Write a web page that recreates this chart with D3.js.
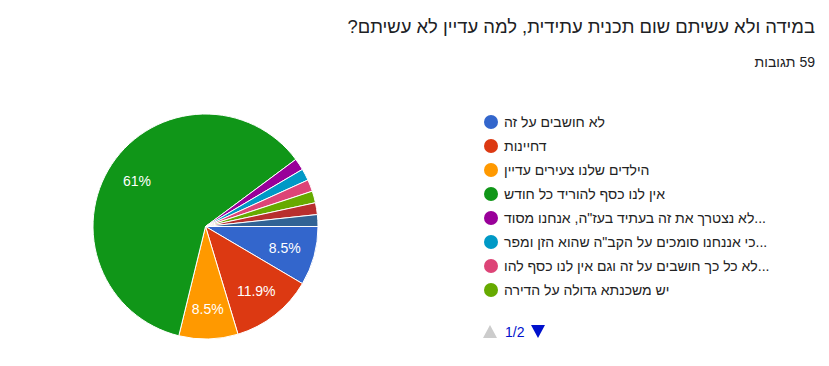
<!DOCTYPE html>
<html><head><meta charset="utf-8">
<script src="https://cdn.jsdelivr.net/npm/d3@7"></script>
<style>body{margin:0;background:#fff;}svg{display:block;font-family:Arial,"Liberation Sans",sans-serif;}</style>
</head><body>
<svg id="c" width="829" height="366"></svg>
<script>
const title = "במידה ולא עשיתם שום תכנית עתידית, למה עדיין לא עשיתם?";
const subtitle = "59 תגובות";
const categories = [
  "לא חושבים על זה",
  "דחיינות",
  "הילדים שלנו צעירים עדיין",
  "אין לנו כסף להוריד כל חודש",
  "לא נצטרך את זה בעתיד בעז\"ה, אנחנו מסוד...",
  "כי אננחנו סומכים על הקב\"ה שהוא הזן ומפר...",
  "לא כל כך חושבים על זה וגם אין לנו כסף להו...",
  "יש משכנתא גדולה על הדירה",
  "תשובה 9",
  "תשובה 10"
];
const counts = [5, 7, 5, 36, 1, 1, 1, 1, 1, 1];
const colors = ["#3366cc","#dc3912","#ff9900","#109618","#990099","#0099c6","#dd4477","#66aa00","#b82e2e","#316395"];
const legendPage = "1/2";
const legendCount = 8;

const svg = d3.select("#c");
svg.append("text").attr("x", 815).attr("y", 33).attr("direction","rtl").attr("text-anchor","start")
  .attr("font-size", 18.4).attr("fill", "#202124").text(title);
svg.append("text").attr("x", 815).attr("y", 67).attr("direction","rtl").attr("text-anchor","start")
  .attr("font-size", 14).attr("fill", "#202124").text(subtitle);

const cx = 205.5, cy = 226.5, r = 112.5;
const total = d3.sum(counts);
const pie = d3.pie().sort(null).value(d => d).startAngle(Math.PI/2).endAngle(Math.PI/2 + 2*Math.PI);
const arcs = pie(counts);
const arc = d3.arc().innerRadius(0).outerRadius(r);
const labelArc = d3.arc().innerRadius(r*0.73).outerRadius(r*0.73);
const g = svg.append("g").attr("transform", `translate(${cx},${cy})`);
g.selectAll("path").data(arcs).join("path")
  .attr("d", arc).attr("fill", (d,i) => colors[i]).attr("stroke", "#fff").attr("stroke-width", 1);
const fmt = v => { const p = v/total*100; return (Math.round(p*10)/10).toString().replace(/\.0$/,"") + "%"; };
g.selectAll("text.pl").data(arcs.filter(d => d.value/total > 0.05)).join("text")
  .attr("class","pl")
  .attr("transform", d => `translate(${labelArc.centroid(d)})`)
  .attr("text-anchor","middle").attr("dy","0.35em")
  .attr("font-size", 14).attr("fill", "#fff").text(d => fmt(d.value));

const lg = svg.append("g");
const ly = d3.scaleLinear().domain([0,1]).range([122, 146]);
categories.slice(0, legendCount).forEach((c, i) => {
  lg.append("circle").attr("cx", 491).attr("cy", ly(i)).attr("r", 7).attr("fill", colors[i]);
  lg.append("text").attr("x", 504).attr("y", ly(i) + 5).attr("text-anchor","start")
    .attr("font-size", 14).attr("fill", "#222").text(c);
});
// pager
lg.append("path").attr("d", "M483,338 L497,338 L490,325 Z").attr("fill", "#ccc");
lg.append("text").attr("x", 505).attr("y", 337).attr("font-size", 14).attr("fill", "#0011cc").text(legendPage);
lg.append("path").attr("d", "M531,325 L545,325 L538,338 Z").attr("fill", "#0011cc");
</script>
</body></html>
